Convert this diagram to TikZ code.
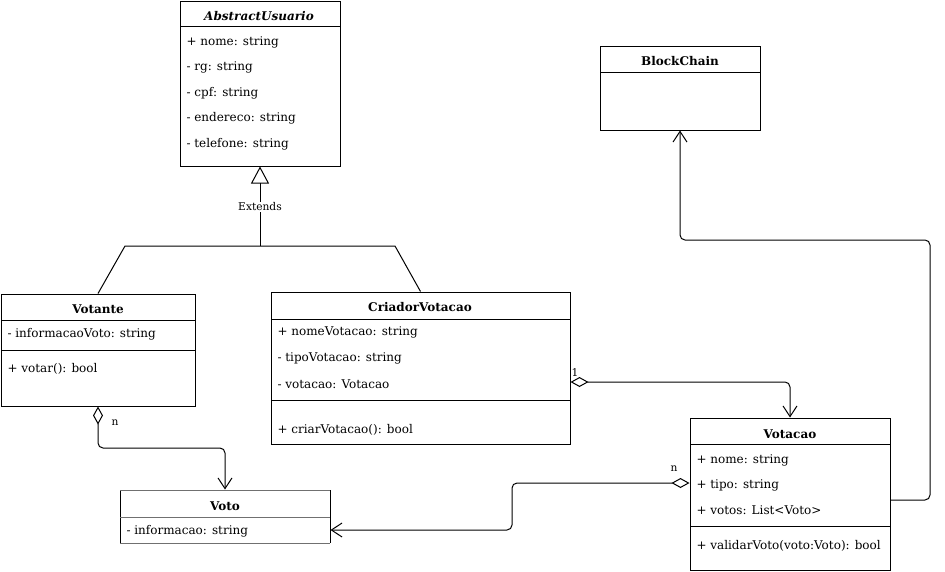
\documentclass[tikz,border=0pt]{standalone}
\usepackage{fontspec}
\setmainfont{DejaVu Serif}
\usetikzlibrary{arrows.meta,fit}
\definecolor{vgray}{HTML}{707070}
\begin{document}
\begin{tikzpicture}[x=0.75pt,y=-0.75pt, line width=0.75pt,
 cls/.style={draw, inner sep=0pt},
 ttl/.style={font=\fontsize{9}{11}\selectfont\bfseries, inner sep=0pt, yshift=-0.75pt},
 attr/.style={font=\fontsize{9}{11}\selectfont, anchor=west, inner sep=0pt, yshift=-0.75pt},
 lbl/.style={font=\fontsize{8}{10}\selectfont, inner sep=1pt},
 agg/.style={{Diamond[open,length=13.5pt,width=7.5pt]}-{Straight Barb[length=8pt,width=10.5pt]}, rounded corners=3.75pt},
 nav/.style={-{Straight Barb[length=8pt,width=10.5pt]}, rounded corners=3.75pt},
 ext/.style={-{Triangle[open,length=12.75pt,width=13.5pt]}}
]
\useasboundingbox (0,0) rectangle (945,571);

% AbstractUsuario
\node[cls, fit={(180,1)(340,166)}] (au) {};
\draw (180,26) -- (340,26);
\node[ttl, font=\fontsize{9}{11}\selectfont\bfseries\itshape] (aut) at (259,15) {AbstractUsuario};
\node[attr] (au1) at (186,41) {+ nome: string};
\node[attr] (au2) at (186,66) {- rg: string};
\node[attr] (au3) at (186,92) {- cpf: string};
\node[attr] (au4) at (186,117) {- endereco: string};
\node[attr] (au5) at (186,143) {- telefone: string};

% BlockChain
\node[cls, fit={(600,46)(760,130)}] (bc) {};
\draw (600,72) -- (760,72);
\node[ttl] (bct) at (680,60) {BlockChain};

% Votante
\node[cls, fit={(1,294)(195,406)}] (votante) {};
\draw (1,320) -- (195,320);
\draw (1,350) -- (195,350);
\node[ttl] (vtt) at (98,308) {Votante};
\node[attr] (vt1) at (7,333) {- informacaoVoto: string};
\node[attr] (vt2) at (7,368) {+ votar(): bool};

% CriadorVotacao
\node[cls, fit={(271,292)(570,444)}] (criador) {};
\draw (271,319) -- (570,319);
\draw (271,400) -- (570,400);
\node[ttl] (crt) at (420,306) {CriadorVotacao};
\node[attr] (cr1) at (277,331) {+ nomeVotacao: string};
\node[attr] (cr2) at (277,357) {- tipoVotacao: string};
\node[attr] (cr3) at (277,383) {- votacao: Votacao};
\node[attr] (cr4) at (277,429) {+ criarVotacao(): bool};

% Votacao
\node[cls, fit={(690,418)(890,570)}] (votacao) {};
\draw (690,444) -- (890,444);
\draw (690,526) -- (890,526);
\node[ttl] (vct) at (790,433) {Votacao};
\node[attr] (vc1) at (696,459) {+ nome: string};
\node[attr] (vc2) at (696,484) {+ tipo: string};
\node[attr] (vc3) at (696,509) {+ votos: List<Voto>};
\node[attr] (vc4) at (696,545) {+ validarVoto(voto:Voto): bool};

% Voto
\node[inner sep=0pt, fit={(120,490)(330,543)}] (voto) {};
\draw (120,490) -- (120,543);
\draw (330,490) -- (330,543);
\draw[vgray] (120,490) -- (330,490);
\draw[vgray] (120,517) -- (330,517);
\draw[vgray] (120,543) -- (330,543);
\node[ttl] (vot) at (225,505) {Voto};
\node[attr] (vo1) at (126,530) {- informacao: string};

% Inheritance
\coordinate (jn) at (au.south |- 0,246);
\draw[ext] (jn) -- (au.south);
\draw (votante.north) -- (125,246) -- (395,246) -- (criador.north);
\node[lbl, fill=white] (extl) at (au.south |- 0,207) {Extends};

% Associations
\draw[agg] (votante.south) -- (98,448) -- (225,448) -- (voto.north);
\node[lbl] (n1) at (115,423) {n};
\draw[agg] (criador.east |- 0,382) -- (790,382) -- (votacao.north);
\node[lbl] (one) at (575,373) {1};
\draw[agg] (votacao.west |- 0,483) -- (512,483) -- (512,530) -- (voto.east |- 0,530);
\node[lbl] (n2) at (674,469) {n};
\draw[nav] (votacao.east |- 0,500) -- (930,500) -- (930,240) -- (680,240) -- (bc.south);
\end{tikzpicture}
\end{document}
